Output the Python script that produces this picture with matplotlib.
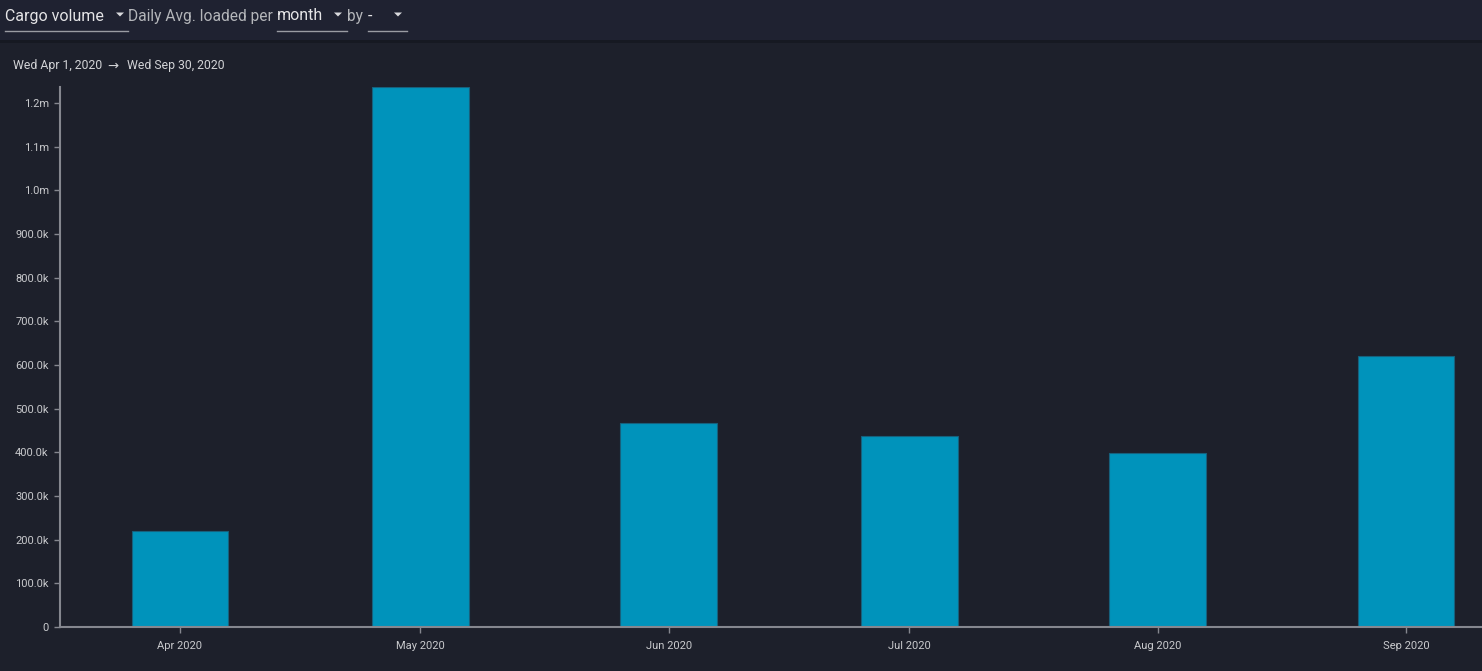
import numpy as np
import matplotlib.pyplot as plt
import matplotlib.dates as mdates
from matplotlib.ticker import FuncFormatter, FixedLocator
from matplotlib.patches import Rectangle, Polygon
from matplotlib.lines import Line2D
import datetime as dt

plt.rcParams['font.family'] = ['Roboto', 'DejaVu Sans']

# data
months = ['Apr 2020', 'May 2020', 'Jun 2020', 'Jul 2020', 'Aug 2020', 'Sep 2020']
month_dates = [dt.datetime(2020, m, 16) for m in range(4, 10)]
volume = [220000, 1237000, 467000, 437500, 398500, 620500]
yticks = [0, 100e3, 200e3, 300e3, 400e3, 500e3, 600e3, 700e3, 800e3, 900e3, 1.0e6, 1.1e6, 1.2e6]

BG = '#1d202b'
BAR = '#0093bb'
AXC = '#85878f'
TXT = '#c9cacd'

W, H = 1482, 671
fig = plt.figure(figsize=(W / 100, H / 100), dpi=100, facecolor=BG)

# header strip
fig.patches.append(Rectangle((0, (H - 40) / H), 1, 40 / H, transform=fig.transFigure,
                             facecolor='#1f2231', edgecolor='none', zorder=0))
fig.lines.append(Line2D([0, 1], [(H - 41) / H] * 2, transform=fig.transFigure,
                        color='#161922', lw=2, zorder=1))

def fx(px):
    return px / W

def fy(py):
    return (H - py) / H

fig.text(fx(5), fy(16), 'Cargo volume', fontsize=11.5, color='#e4e4e6', va='center')
fig.text(fx(128), fy(16), 'Daily Avg. loaded per', fontsize=11.2, color='#b4b6ba', va='center')
fig.text(fx(277), fy(16), 'month', fontsize=11.5, color='#e4e4e6', va='center')
fig.text(fx(347), fy(16), 'by', fontsize=11.2, color='#b4b6ba', va='center')
fig.text(fx(368), fy(16), '-', fontsize=11.5, color='#e4e4e6', va='center')
for x0, x1, tri in [(5, 128, 120), (277, 347, 338), (368, 407, 398)]:
    fig.lines.append(Line2D([fx(x0), fx(x1)], [fy(31)] * 2, transform=fig.transFigure,
                            color='#9a9ca3', lw=1))
    fig.patches.append(Polygon([(fx(tri - 4), fy(12.5)), (fx(tri + 4), fy(12.5)), (fx(tri), fy(16.5))],
                               closed=True, transform=fig.transFigure, facecolor='#d8d9dc',
                               edgecolor='none'))

fig.text(fx(13), fy(66), 'Wed Apr 1, 2020', fontsize=8.8, color='#d2d3d6', va='center')
fig.text(fx(113), fy(66), '\u2192', fontsize=9.5, color='#d2d3d6', va='center', ha='center',
         family=['DejaVu Sans'])
fig.text(fx(127), fy(66), 'Wed Sep 30, 2020', fontsize=8.8, color='#d2d3d6', va='center')

# plot area
ax = fig.add_axes([fx(59.8), fy(627), 1 - fx(59.8), (627 - 87) / H])
ax.set_facecolor(BG)

ax.bar(month_dates, volume, width=12.1, color=BAR, edgecolor='#17607c', linewidth=0.8, zorder=2)

start = mdates.date2num(dt.datetime(2020, 4, 1))
ax.set_xlim(start, start + (W - 59.8) / 8.013)
ax.set_ylim(0, max(volume))

ax.xaxis.set_major_locator(FixedLocator(mdates.date2num(month_dates)))
ax.set_xticklabels(months)

def fmt(v, pos):
    if v == 0:
        return '0'
    if v >= 1e6:
        return f'{v / 1e6:.1f}m'
    return f'{v / 1e3:.1f}k'

ax.yaxis.set_major_locator(FixedLocator(yticks))
ax.yaxis.set_major_formatter(FuncFormatter(fmt))

for s in ['top', 'right']:
    ax.spines[s].set_visible(False)
for s in ['left', 'bottom']:
    ax.spines[s].set_color(AXC)
    ax.spines[s].set_linewidth(1.5)
    ax.spines[s].set_zorder(3)

ax.tick_params(axis='both', colors=AXC, labelcolor=TXT, labelsize=8, length=4, width=1)
ax.tick_params(axis='x', pad=6)
ax.tick_params(axis='y', pad=4)

fig.savefig('out.png', dpi=100, facecolor=BG)
